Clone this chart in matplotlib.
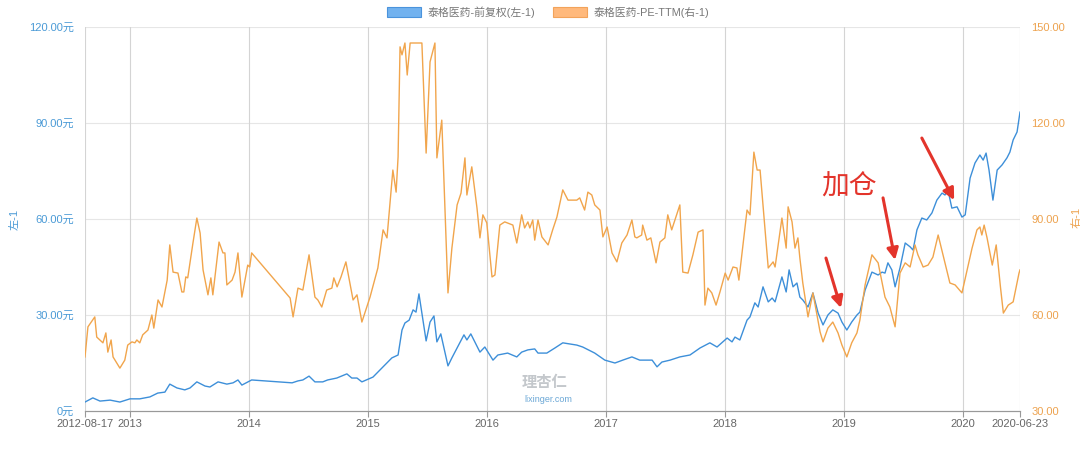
import matplotlib
matplotlib.use("Agg")
import matplotlib.pyplot as plt
from matplotlib.patches import Patch
import pandas as pd

plt.rcParams['font.family'] = ['Liberation Sans', 'Noto Sans CJK SC', 'DejaVu Sans']

# ---------------- data ----------------
price_dates = [
    "2012-08-17", "2012-09-10", "2012-10-02", "2012-11-02", "2012-12-02",
    "2013-01-02", "2013-02-01", "2013-03-04", "2013-03-28", "2013-04-19",
    "2013-05-04", "2013-05-26", "2013-06-19", "2013-07-05", "2013-07-26",
    "2013-08-20", "2013-09-04", "2013-09-29", "2013-10-26", "2013-11-14",
    "2013-11-29", "2013-12-11", "2014-01-10", "2014-05-14", "2014-06-01",
    "2014-06-16", "2014-07-05", "2014-07-23", "2014-08-16", "2014-08-31",
    "2014-09-28", "2014-10-29", "2014-11-13", "2014-11-29", "2014-12-14",
    "2015-01-17", "2015-02-17", "2015-03-16", "2015-04-04", "2015-04-16",
    "2015-04-25", "2015-05-08", "2015-05-20", "2015-05-29", "2015-06-07",
    "2015-06-29", "2015-07-11", "2015-07-23", "2015-08-01", "2015-08-13",
    "2015-09-04", "2015-09-16", "2015-10-02", "2015-10-23", "2015-11-01",
    "2015-11-13", "2015-12-11", "2015-12-26", "2016-01-20", "2016-02-04",
    "2016-03-05", "2016-04-02", "2016-04-17", "2016-05-06", "2016-05-27",
    "2016-06-06", "2016-07-03", "2016-07-28", "2016-08-21", "2016-10-03",
    "2016-10-21", "2016-11-27", "2016-12-28", "2017-01-28", "2017-02-21",
    "2017-03-21", "2017-04-14", "2017-05-22", "2017-06-06", "2017-06-21",
    "2017-07-16", "2017-08-15", "2017-09-15", "2017-10-16", "2017-11-15",
    "2017-12-07", "2018-01-07", "2018-01-22", "2018-01-31", "2018-02-15",
    "2018-03-09", "2018-03-18", "2018-04-02", "2018-04-12", "2018-04-27",
    "2018-05-13", "2018-05-25", "2018-06-03", "2018-06-24", "2018-07-07",
    "2018-07-16", "2018-07-28", "2018-08-09", "2018-08-18", "2018-08-27",
    "2018-09-12", "2018-09-27", "2018-10-13", "2018-10-28", "2018-11-12",
    "2018-11-27", "2018-12-13", "2018-12-25", "2019-01-09", "2019-01-24",
    "2019-02-09", "2019-02-18", "2019-03-06", "2019-03-27", "2019-04-15",
    "2019-04-27", "2019-05-06", "2019-05-15", "2019-05-27", "2019-06-06",
    "2019-06-21", "2019-07-07", "2019-07-22", "2019-07-31", "2019-08-12",
    "2019-08-27", "2019-09-11", "2019-09-27", "2019-10-12", "2019-10-28",
    "2019-11-06", "2019-11-15", "2019-11-27", "2019-12-13", "2019-12-28",
    "2020-01-07", "2020-01-22", "2020-02-06", "2020-02-21", "2020-03-02",
    "2020-03-11", "2020-03-20", "2020-04-01", "2020-04-14", "2020-04-29",
    "2020-05-14", "2020-05-23", "2020-06-02", "2020-06-14", "2020-06-23",
]
price_values = [
    2.8, 4.1, 3.1, 3.4, 2.8,
    3.8, 3.8, 4.4, 5.6, 5.9,
    8.4, 7.2, 6.6, 7.2, 9.1,
    7.8, 7.5, 9.1, 8.4, 8.8,
    9.7, 8.1, 9.7, 8.8, 9.4,
    9.7, 10.9, 9.1, 9.1, 9.7,
    10.3, 11.6, 10.3, 10.3, 9.1,
    10.6, 13.8, 16.6, 17.5, 25.3,
    27.5, 28.4, 31.6, 30.9, 36.6,
    21.9, 27.8, 29.7, 21.6, 24.1,
    14.1, 16.6, 19.7, 23.8, 22.2,
    24.1, 18.4, 20.0, 15.9, 17.5,
    18.1, 16.9, 18.4, 19.1, 19.4,
    18.1, 18.1, 19.7, 21.3, 20.6,
    20.0, 18.1, 15.9, 15.0, 15.9,
    16.9, 15.9, 15.9, 13.8, 15.3,
    15.9, 16.9, 17.5, 19.7, 21.3,
    20.0, 22.8, 21.6, 23.1, 22.2,
    28.4, 29.4, 33.8, 32.5, 38.8,
    34.1, 35.3, 34.1, 41.9, 37.2,
    44.1, 38.8, 40.0, 35.6, 34.7,
    32.5, 36.9, 30.6, 26.9, 30.0,
    31.6, 30.6, 27.8, 25.3, 27.8,
    30.0, 30.9, 37.8, 43.4, 42.5,
    43.4, 43.1, 46.3, 44.1, 38.8,
    44.7, 52.5, 51.3, 50.3, 56.6,
    60.3, 59.7, 61.9, 65.9, 68.1,
    67.5, 69.1, 63.4, 63.8, 60.6,
    61.3, 72.8, 77.5, 80.0, 78.4,
    80.6, 75.3, 65.9, 75.3, 76.9,
    79.1, 80.9, 84.7, 87.2, 93.4,
]

pe_dates = [
    "2012-08-17", "2012-08-26", "2012-09-16", "2012-09-22", "2012-10-11",
    "2012-10-20", "2012-10-26", "2012-11-05", "2012-11-11", "2012-12-02",
    "2012-12-17", "2012-12-26", "2013-01-08", "2013-01-17", "2013-01-23",
    "2013-02-01", "2013-02-10", "2013-02-26", "2013-03-10", "2013-03-16",
    "2013-03-29", "2013-04-10", "2013-04-26", "2013-05-04", "2013-05-14",
    "2013-05-29", "2013-06-10", "2013-06-16", "2013-06-22", "2013-06-28",
    "2013-07-14", "2013-07-26", "2013-08-05", "2013-08-14", "2013-08-29",
    "2013-09-07", "2013-09-13", "2013-10-02", "2013-10-14", "2013-10-20",
    "2013-10-26", "2013-11-11", "2013-11-20", "2013-11-29", "2013-12-11",
    "2013-12-29", "2014-01-04", "2014-01-10", "2014-05-08", "2014-05-17",
    "2014-06-01", "2014-06-16", "2014-07-05", "2014-07-23", "2014-08-01",
    "2014-08-13", "2014-08-28", "2014-09-13", "2014-09-19", "2014-09-29",
    "2014-10-11", "2014-10-26", "2014-11-17", "2014-11-29", "2014-12-14",
    "2015-01-08", "2015-02-01", "2015-02-17", "2015-03-01", "2015-03-19",
    "2015-03-29", "2015-04-04", "2015-04-10", "2015-04-16", "2015-04-25",
    "2015-05-02", "2015-05-11", "2015-06-16", "2015-06-29", "2015-07-11",
    "2015-07-26", "2015-08-01", "2015-08-16", "2015-09-04", "2015-09-16",
    "2015-10-02", "2015-10-14", "2015-10-26", "2015-11-01", "2015-11-16",
    "2015-12-02", "2015-12-11", "2015-12-20", "2016-01-01", "2016-01-17",
    "2016-01-26", "2016-02-10", "2016-02-25", "2016-03-21", "2016-04-02",
    "2016-04-17", "2016-04-26", "2016-05-06", "2016-05-12", "2016-05-21",
    "2016-05-27", "2016-06-06", "2016-06-18", "2016-07-07", "2016-07-21",
    "2016-08-03", "2016-08-21", "2016-09-06", "2016-10-03", "2016-10-12",
    "2016-10-27", "2016-11-06", "2016-11-18", "2016-11-27", "2016-12-13",
    "2016-12-22", "2017-01-04", "2017-01-19", "2017-02-03", "2017-02-18",
    "2017-03-06", "2017-03-21", "2017-03-30", "2017-04-05", "2017-04-20",
    "2017-04-23", "2017-05-06", "2017-05-18", "2017-06-03", "2017-06-15",
    "2017-06-30", "2017-07-09", "2017-07-21", "2017-07-31", "2017-08-15",
    "2017-08-24", "2017-09-09", "2017-09-24", "2017-10-10", "2017-10-25",
    "2017-10-31", "2017-11-09", "2017-11-21", "2017-12-04", "2017-12-16",
    "2018-01-01", "2018-01-10", "2018-01-25", "2018-02-06", "2018-02-12",
    "2018-03-09", "2018-03-18", "2018-03-30", "2018-04-09", "2018-04-18",
    "2018-05-13", "2018-05-28", "2018-06-03", "2018-06-24", "2018-07-07",
    "2018-07-13", "2018-07-25", "2018-08-03", "2018-08-12", "2018-08-18",
    "2018-08-27", "2018-09-12", "2018-09-27", "2018-10-19", "2018-10-28",
    "2018-11-12", "2018-11-27", "2018-12-13", "2018-12-25", "2019-01-09",
    "2019-01-24", "2019-02-09", "2019-02-18", "2019-03-06", "2019-03-27",
    "2019-04-15", "2019-05-06", "2019-05-21", "2019-06-06", "2019-06-21",
    "2019-07-07", "2019-07-22", "2019-08-06", "2019-08-15", "2019-08-31",
    "2019-09-15", "2019-09-30", "2019-10-16", "2019-10-31", "2019-11-21",
    "2019-12-07", "2019-12-28", "2020-01-13", "2020-01-28", "2020-02-12",
    "2020-02-21", "2020-02-27", "2020-03-05", "2020-03-14", "2020-03-30",
    "2020-04-11", "2020-04-24", "2020-05-03", "2020-05-18", "2020-06-02",
    "2020-06-20", "2020-06-23",
]
pe_values = [
    46.9, 56.3, 59.4, 53.1, 51.3,
    54.4, 48.4, 52.2, 46.9, 43.4,
    45.9, 50.6, 51.6, 51.3, 52.2,
    51.3, 53.8, 55.3, 60.0, 55.9,
    64.7, 62.5, 70.9, 81.9, 73.4,
    73.1, 67.2, 67.2, 71.9, 71.6,
    82.5, 90.3, 85.6, 74.1, 66.3,
    71.6, 66.3, 82.8, 79.4, 79.4,
    69.4, 70.9, 73.4, 79.4, 65.6,
    75.6, 75.0, 79.4, 65.3, 59.4,
    68.4, 67.8, 78.8, 65.6, 64.7,
    62.5, 67.8, 68.4, 71.6, 68.8,
    71.9, 76.6, 64.7, 66.3, 57.8,
    65.6, 74.7, 86.6, 84.1, 105.3,
    98.4, 109.4, 143.8, 141.3, 145.0,
    135.0, 145.0, 145.0, 110.6, 139.1,
    145.0, 109.1, 120.9, 66.9, 80.9,
    94.4, 98.1, 109.1, 97.5, 106.3,
    93.4, 84.1, 91.3, 88.8, 71.9,
    72.5, 88.1, 89.1, 88.1, 82.5,
    91.3, 87.2, 89.1, 87.2, 89.7,
    83.4, 89.7, 84.4, 81.9, 86.6,
    90.6, 99.1, 95.9, 95.9, 96.6,
    92.8, 98.4, 97.5, 94.4, 92.8,
    84.4, 87.5, 79.4, 76.6, 82.5,
    85.0, 89.7, 84.4, 84.1, 85.0,
    88.1, 83.4, 84.1, 76.3, 82.8,
    84.1, 91.3, 86.6, 89.7, 94.4,
    73.4, 73.1, 78.8, 85.9, 86.6,
    63.1, 68.4, 66.9, 63.1, 67.2,
    73.1, 70.9, 75.0, 74.7, 70.9,
    92.8, 91.3, 110.9, 105.3, 105.3,
    74.7, 76.6, 75.0, 90.3, 80.9,
    93.8, 89.1, 80.9, 84.1, 77.8,
    70.0, 59.4, 66.9, 54.7, 51.6,
    55.9, 57.8, 54.4, 50.6, 46.9,
    51.3, 54.4, 58.4, 69.4, 78.8,
    76.3, 65.6, 62.5, 56.3, 73.1,
    76.3, 75.0, 81.9, 78.8, 75.0,
    75.6, 78.1, 85.0, 78.8, 70.0,
    69.4, 66.9, 74.1, 80.9, 86.6,
    87.5, 85.0, 88.1, 84.1, 75.6,
    81.9, 68.8, 60.6, 63.1, 64.1,
    73.1, 74.1,
]

x_tick_dates = ["2012-08-17", "2013-01-01", "2014-01-01", "2015-01-01", "2016-01-01",
                "2017-01-01", "2018-01-01", "2019-01-01", "2020-01-01", "2020-06-23"]
x_tick_labels = ["2012-08-17", "2013", "2014", "2015", "2016",
                 "2017", "2018", "2019", "2020", "2020-06-23"]
left_ticks = [0, 30, 60, 90, 120]
left_tick_labels = ["0元", "30.00元", "60.00元", "90.00元", "120.00元"]
right_ticks = [30, 60, 90, 120, 150]
right_tick_labels = ["30.00", "60.00", "90.00", "120.00", "150.00"]

series_names = ["泰格医药-前复权(左-1)", "泰格医药-PE-TTM(右-1)"]

# annotation anchors (date, price)
arrow_heads = [("2018-12-22", 32.2), ("2019-06-06", 47.2), ("2019-12-04", 65.9)]
arrow_tails = [("2018-11-06", 47.8), ("2019-04-30", 66.6), ("2019-08-27", 85.3)]
note_text = "加仓"
note_pos = ("2019-01-14", 70.0)

# ---------------- style ----------------
BLUE = "#3d8fd9"
ORANGE = "#f1a54c"
BLUE_TXT = "#4a9ad6"
ORANGE_TXT = "#eda24e"
GRID = "#e6e6e6"
VGRID = "#d4d4d4"
RED = "#e3342b"

fig = plt.figure(figsize=(10.8, 4.53), dpi=100)
ax = fig.add_axes([85 / 1080, 1 - 411 / 453, 935 / 1080, 384 / 453])
ax2 = ax.twinx()

pdates = pd.to_datetime(price_dates)
edates = pd.to_datetime(pe_dates)

ax.plot(pdates, price_values, color=BLUE, lw=1.0, zorder=3)
ax2.plot(edates, pe_values, color=ORANGE, lw=1.0, zorder=2)

xmin = pd.Timestamp("2012-08-17")
xmax = pd.Timestamp("2020-06-23")
ax.set_xlim(xmin, xmax)
ax.set_ylim(0, 120)
ax2.set_ylim(30, 150)

# grid
for v in left_ticks[1:]:
    ax.axhline(v, color=GRID, lw=0.8, zorder=0)
xt = pd.to_datetime(x_tick_dates)
for d in xt:
    ax.axvline(d, color=VGRID, lw=0.8, zorder=0)

ax.set_xticks(xt)
ax.set_xticklabels(x_tick_labels, fontsize=8, color="#666666")
ax.tick_params(axis="x", length=4, color="#999999", pad=2)

ax.set_yticks(left_ticks)
ax.set_yticklabels(left_tick_labels, fontsize=8, color=BLUE_TXT)
ax.tick_params(axis="y", length=0, pad=8)
ax2.set_yticks(right_ticks)
ax2.set_yticklabels(right_tick_labels, fontsize=8, color=ORANGE_TXT)
ax2.tick_params(axis="y", length=0, pad=8)

for a in (ax, ax2):
    for s in ("top", "right", "left"):
        a.spines[s].set_visible(False)
    a.spines["bottom"].set_color("#999999")
    a.spines["bottom"].set_linewidth(0.8)

# axis names
fig.text(15 / 1080, 1 - 219 / 453, "左-1", rotation=90, fontsize=8, color=BLUE_TXT,
         ha="center", va="center")
fig.text(1077 / 1080, 1 - 217 / 453, "右-1", rotation=90, fontsize=8, color=ORANGE_TXT,
         ha="center", va="center")

# legend
handles = [Patch(facecolor="#72b2ef", edgecolor="#4a93dc", lw=0.8),
           Patch(facecolor="#ffb97c", edgecolor="#f2a35a", lw=0.8)]
leg = fig.legend(handles, series_names, loc="center", bbox_to_anchor=(548 / 1080, 1 - 12 / 453),
                 ncol=2, frameon=False, fontsize=7.8, handlelength=3.2, handleheight=1.1,
                 columnspacing=1.6, handletextpad=0.6)
for t in leg.get_texts():
    t.set_color("#777777")

# watermark
fig.text(545 / 1080, 1 - 382 / 453, "理杏仁", fontsize=11, color="#c4c8cc", ha="center",
         va="center", fontweight="bold", family=["Noto Sans CJK SC"])
fig.text(548 / 1080, 1 - 400 / 453, "lixinger.com", fontsize=6.5, color="#6aa7d6",
         ha="center", va="center")

# annotations
for (hd, hv), (td, tv) in zip(arrow_heads, arrow_tails):
    ax.annotate("", xy=(pd.Timestamp(hd), hv), xytext=(pd.Timestamp(td), tv),
                arrowprops=dict(arrowstyle="-|>", color=RED, lw=2.2, mutation_scale=17,
                                shrinkA=0, shrinkB=0), zorder=6)
ax.text(pd.Timestamp(note_pos[0]), note_pos[1], note_text, fontsize=20, color=RED,
        ha="center", va="center", family=["Noto Sans CJK SC"], zorder=6)

fig.savefig("out.png", dpi=100)
